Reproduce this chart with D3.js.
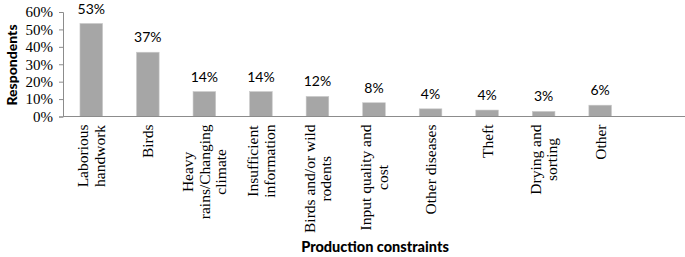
<!DOCTYPE html>
<html>
<head>
<meta charset="utf-8">
<script src="https://cdn.jsdelivr.net/npm/d3@7"></script>
<style>
  body { margin: 0; background: #fff; }
  svg { display: block; }
</style>
</head>
<body>
<div id="chart"></div>
<script>
// data
const categories = [
    ["Laborious", "handwork"],
    ["Birds"],
    ["Heavy", "rains/Changing", "climate"],
    ["Insufficient", "information"],
    ["Birds and/or wild", "rodents"],
    ["Input quality and", "cost"],
    ["Other diseases"],
    ["Theft"],
    ["Drying and", "sorting"],
    ["Other"]
];
const values = [53.4, 36.9, 14.3, 14.3, 11.5, 7.9, 4.4, 3.7, 2.9, 6.5];
const valueLabels = ["53%", "37%", "14%", "14%", "12%", "8%", "4%", "4%", "3%", "6%"];
const yTicks = [0, 10, 20, 30, 40, 50, 60];

const width = 685, height = 257;
const plotLeft = 63, plotRight = 685, plotBottom = 116.5, plotTop = 12;

const svg = d3.select("#chart").append("svg")
    .attr("width", width)
    .attr("height", height);

// one empty slot at the end, like the source chart
const keys = d3.range(categories.length + 1);
const x = d3.scaleBand()
    .domain(keys)
    .range([plotLeft, plotRight])
    .paddingInner(0.6)
    .paddingOuter(0.3);

const y = d3.scaleLinear()
    .domain([0, 60])
    .range([plotBottom, plotTop]);

// y axis
const yAxis = svg.append("g")
    .attr("transform", `translate(${plotLeft},0)`)
    .call(d3.axisLeft(y).tickValues(yTicks).tickFormat(d => d + "%").tickSize(4).tickPadding(6));
yAxis.select(".domain").attr("stroke", "#8c8c8c");
yAxis.selectAll(".tick line").attr("stroke", "#8c8c8c");
yAxis.selectAll("text")
    .attr("font-family", "Liberation Serif")
    .attr("font-size", 15)
    .attr("fill", "#000");

// bars
svg.selectAll("rect.bar")
    .data(values)
    .enter()
    .append("rect")
    .attr("class", "bar")
    .attr("x", (d, i) => x(i))
    .attr("y", d => y(d))
    .attr("width", x.bandwidth())
    .attr("height", d => y(0) - y(d))
    .attr("fill", "#a6a6a6")
    .attr("stroke", "#c8c8c8")
    .attr("stroke-width", 0.6);

// x axis line
svg.append("line")
    .attr("x1", plotLeft).attr("x2", plotRight)
    .attr("y1", y(0)).attr("y2", y(0))
    .attr("stroke", "#8c8c8c");

// value labels
svg.selectAll("text.val")
    .data(values)
    .enter()
    .append("text")
    .attr("class", "val")
    .attr("x", (d, i) => x(i) + x.bandwidth() / 2)
    .attr("y", d => y(d) - 10)
    .attr("text-anchor", "middle")
    .attr("font-family", "Lato")
    .attr("font-size", 14)
    .attr("fill", "#000")
    .text((d, i) => valueLabels[i]);

// rotated category labels, lines centred within their block
const lineH = 16.5;
const labelTop = 124.5;
categories.forEach((lines, i) => {
    const cx = x(i) + x.bandwidth() / 2;
    const g = svg.append("g")
        .attr("transform", `translate(${cx},${labelTop}) rotate(-90)`);
    const texts = g.selectAll("text")
        .data(lines)
        .enter()
        .append("text")
        .attr("font-family", "Liberation Serif")
        .attr("font-size", 15.5)
        .attr("fill", "#000")
        .attr("text-anchor", "middle")
        .attr("y", (d, j) => (j - (lines.length - 1) / 2) * lineH)
        .attr("dy", "0.35em")
        .text(d => d);
    let maxW = 0;
    texts.each(function() { maxW = Math.max(maxW, this.getComputedTextLength()); });
    texts.attr("x", -maxW / 2);
});

// axis titles
svg.append("text")
    .attr("transform", "translate(17,65) rotate(-90)")
    .attr("text-anchor", "middle")
    .attr("font-family", "Lato")
    .attr("font-weight", 900)
    .attr("font-size", 14)
    .attr("fill", "#000")
    .text("Respondents");

svg.append("text")
    .attr("x", 375)
    .attr("y", 252)
    .attr("text-anchor", "middle")
    .attr("font-family", "Lato")
    .attr("font-weight", 900)
    .attr("font-size", 14.5)
    .attr("fill", "#000")
    .text("Production constraints");
</script>
</body>
</html>
